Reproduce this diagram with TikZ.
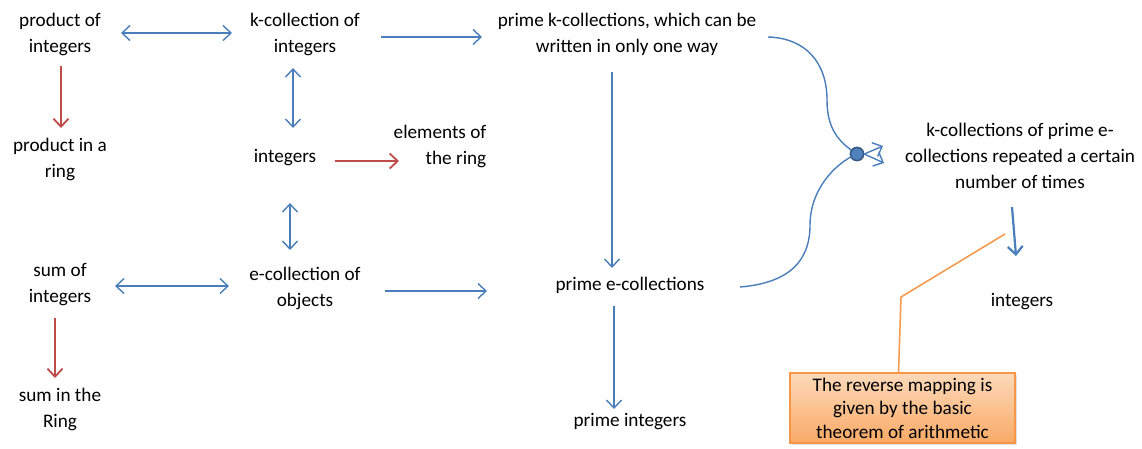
\documentclass[tikz,border=0pt]{standalone}
\usepackage{fontspec}
\setmainfont{Carlito}
\usetikzlibrary{arrows.meta,calc,shadows}
\definecolor{lblue}{HTML}{4A7EBB}
\definecolor{lred}{HTML}{BE4B48}
\definecolor{lorange}{HTML}{F79646}
\definecolor{otop}{HTML}{FCD9BA}
\definecolor{obot}{HTML}{F9AA66}
\definecolor{dotfill}{HTML}{4F81BD}
\definecolor{dotline}{HTML}{385D8A}
\begin{document}
\begin{tikzpicture}[x=1pt,y=-1pt,
  lbl/.style={align=center,inner sep=0pt,text=black,font=\fontsize{19.2}{26}\selectfont},
  arr/.style={draw=lblue,line width=1.4pt,-{Straight Barb[length=8pt,width=15pt]}},
  darr/.style={draw=lblue,line width=1.4pt,{Straight Barb[length=8pt,width=15pt]}-{Straight Barb[length=8pt,width=15pt]}},
  rarr/.style={draw=lred,line width=1.8pt,-{Straight Barb[length=8pt,width=15pt]}},
  curve/.style={draw=lblue,line width=1.4pt},
  callout/.style={draw=lorange,line width=1.5pt},
  notebox/.style={draw=lorange,line width=1.3pt,top color=otop,bottom color=obot,
    minimum width=225pt,minimum height=70pt,inner sep=0pt,align=center,
    font=\fontsize{19.2}{23.5}\selectfont,
    drop shadow={shadow xshift=2pt,shadow yshift=-2pt,opacity=0.25}},
  joint/.style={circle,fill=dotfill,draw=dotline,line width=1.5pt,minimum size=13pt,inner sep=0pt}]
\useasboundingbox (0,0) rectangle (1142,448);
\fill[white] (0,0) rectangle (1142,448);

% nodes
\node[lbl] (p1) at (60,34) {product of\\integers};
\node[lbl] (k1) at (305,34) {k-collection of\\integers};
\node[lbl] (pk) at (627,34) {prime k-collections, which can be\\written in only one way};
\node[lbl] (pr) at (60,159) {product in a\\ring};
\node[lbl] (im) at (285,158) {integers};
\node[lbl,align=right] (el) at (440,146) {elements of\\the ring};
\node[lbl] (kc) at (1020,156) {k-collections of prime e-\\collections repeated a certain\\number of times};
\node[lbl] (s1) at (60,285) {sum of\\integers};
\node[lbl] (e1) at (305,288) {e-collection of\\objects};
\node[lbl] (pe) at (630,285) {prime e-collections};
\node[lbl] (ir) at (1022,302) {integers};
\node[lbl] (sr) at (60,409) {sum in the\\Ring};
\node[lbl] (pi) at (630,422) {prime integers};
\node[notebox] (box) at (902.5,408) {The reverse mapping is\\given by the basic\\theorem of arithmetic};
\node[joint] (dot) at (857,154) {};
\coordinate (cend) at (1005,234);

% blue arrows
\draw[darr] ([xshift=61pt,yshift=1pt]p1.center) -- ([xshift=-73pt,yshift=1pt]k1.center);
\draw[arr] ([xshift=76pt,yshift=-3pt]k1.center) -- ([xshift=-145pt,yshift=-3pt]pk.center);
\draw[darr] ([xshift=-12pt,yshift=-34pt]k1.center) -- ([xshift=8pt,yshift=30pt]im.center);
\draw[darr] ([xshift=5pt,yshift=-45pt]im.center) -- ([xshift=-15pt,yshift=38pt]e1.center);
\draw[darr] ([xshift=55pt,yshift=-1pt]s1.center) -- ([xshift=-76pt,yshift=2pt]e1.center);
\draw[arr] ([xshift=80pt,yshift=-3pt]e1.center) -- ([xshift=-143pt,yshift=-6pt]pe.center);
\draw[arr] ([xshift=-15pt,yshift=-38pt]pk.center) -- ([xshift=-18pt,yshift=17pt]pe.center);
\draw[arr] ([xshift=-16pt,yshift=-21pt]pe.center) -- ([xshift=-16pt,yshift=13pt]pi.center);
\draw[draw=lblue,line width=2.2pt,-{Straight Barb[length=8pt,width=15pt]}] ([xshift=-8pt,yshift=-51pt]kc.center) -- ([xshift=-6pt,yshift=46pt]ir.center);

% red arrows
\draw[rarr] ([xshift=50pt,yshift=-3pt]im.center) -- ([xshift=-41pt,yshift=-15pt]el.center);
\draw[rarr] ([xshift=1pt,yshift=-32pt]p1.center) -- ([xshift=1pt,yshift=31pt]pr.center);
\draw[rarr] ([xshift=-5pt,yshift=-33pt]s1.center) -- ([xshift=-5pt,yshift=31pt]sr.center);

% merging curves
\draw[curve] ([xshift=141pt,yshift=-3pt]pk.center) .. controls (805,38) and (827,62) .. (827,100)
   .. controls (827,128) and (838,142) .. (dot.center);
\draw[curve] ([xshift=110pt,yshift=-2pt]pe.center) .. controls (788,283) and (810,262) .. (810,225)
   .. controls (810,190) and (835,163) .. (dot.center);
\node[joint] at (dot) {};
\draw[arr] (dot.east) -- ([xshift=-137pt,yshift=10pt]kc.center);
\draw[arr] (dot.east) -- ([xshift=-136pt,yshift=-7pt]kc.center);

% callout
\draw[callout] ([xshift=-4pt]box.north) -- (901,297) -- (cend);
\end{tikzpicture}
\end{document}
